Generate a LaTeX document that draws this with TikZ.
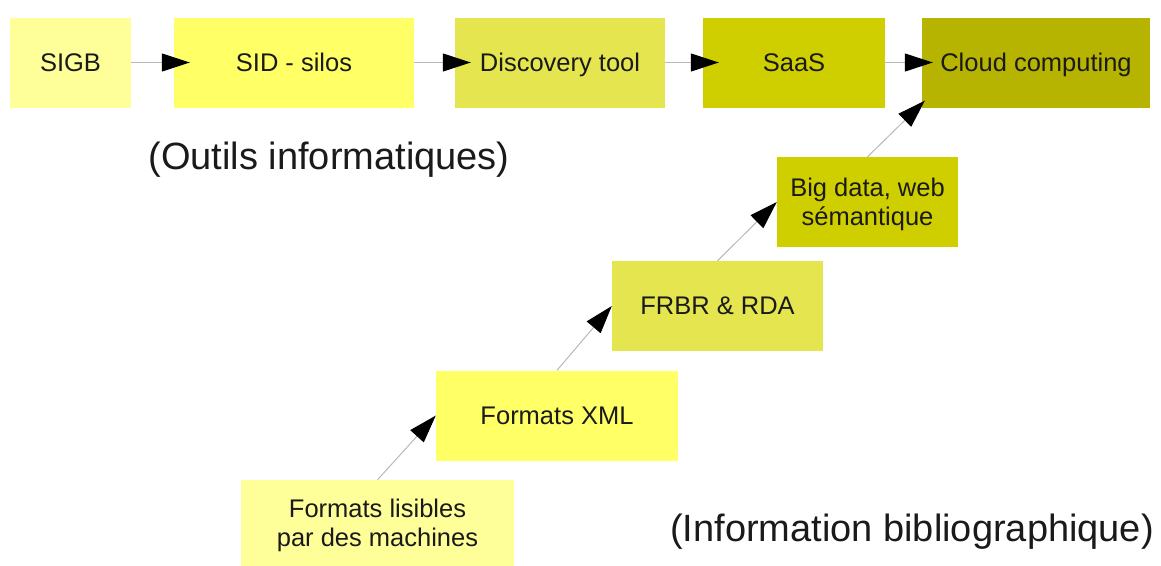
\documentclass[tikz,border=0pt]{standalone}
\usepackage{fontspec}
\setmainfont{Liberation Sans}
\usetikzlibrary{arrows.meta}
\definecolor{c1}{HTML}{FFFF99}
\definecolor{c2}{HTML}{FFFF66}
\definecolor{c3}{HTML}{E5E54F}
\definecolor{c4}{HTML}{CFCF00}
\definecolor{c5}{HTML}{B6B400}
\definecolor{txt}{HTML}{1A1A1A}
\definecolor{ln}{HTML}{B8B8B8}
\tikzset{
  box/.style={rectangle, draw=none, inner sep=0pt, align=center, text=txt,
    font=\fontsize{25.5}{29}\selectfont, minimum height=90pt, text depth=0pt},
  conn/.style={draw=ln, line width=1pt,
    -{Triangle[length=28pt,width=18pt,color=black]}},
  hconn/.style={conn, shorten >=-16pt},
  big/.style={text=txt, font=\fontsize{38}{44}\selectfont, inner sep=0pt}
}
\begin{document}
\begin{tikzpicture}[x=1pt,y=-1pt]
\useasboundingbox (0,0) rectangle (1161,565);
% top row
\node[box, fill=c1, minimum width=121pt] (sigb) at (70.5,62.5) {SIGB};
\node[box, fill=c2, minimum width=240pt] (sid) at (294,62.5) {SID - silos};
\node[box, fill=c3, minimum width=210pt] (disc) at (560,62.5) {Discovery tool};
\node[box, fill=c4, minimum width=182pt] (saas) at (794,62.5) {SaaS};
\node[box, fill=c5, minimum width=228pt] (cloud) at (1036,62.5) {Cloud computing};
% staircase
\node[box, fill=c4, minimum width=181pt] (bigd) at (867.5,202) {Big data, web\\sémantique};
\node[box, fill=c3, minimum width=211pt] (frbr) at (717.5,306) {FRBR \& RDA};
\node[box, fill=c2, minimum width=242pt] (xml) at (557,415.5) {Formats XML};
\node[box, fill=c1, minimum width=273pt, minimum height=86pt] (lis) at (377.5,523) {Formats lisibles\\par des machines};
% labels
\node[big] (outils) at (329,160) {(Outils informatiques)};
\node[big] (info) at (912,532) {(Information bibliographique)};
% connectors
\draw[hconn] (sigb.east) -- (sid.west);
\draw[hconn] (sid.east) -- (disc.west);
\draw[hconn] (disc.east) -- (saas.west);
\draw[conn, shorten >=-11pt] (saas.east) -- (cloud.west);
\draw[conn] (lis.north) -- (xml.west);
\draw[conn] (xml.north) -- (frbr.west);
\draw[conn] (frbr.north) -- (bigd.west);
\draw[conn] (bigd.north) -- ([shift={(3,-7)}]cloud.south west);
\end{tikzpicture}
\end{document}
